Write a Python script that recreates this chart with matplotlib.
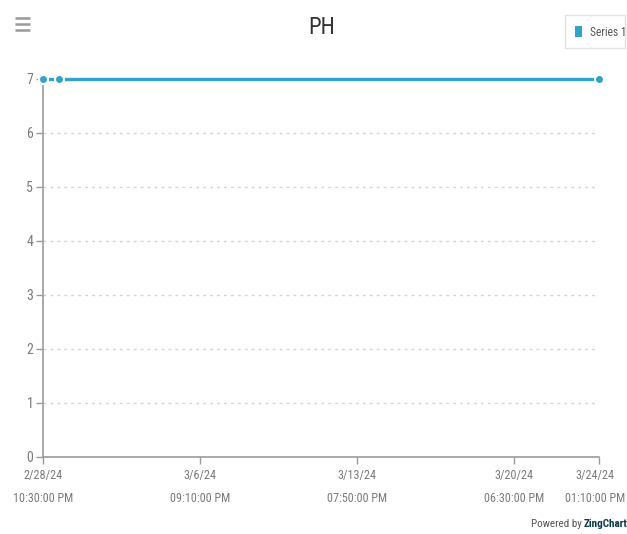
import matplotlib
matplotlib.use("Agg")
import matplotlib.pyplot as plt
import matplotlib.transforms as mtransforms
from matplotlib.patches import Rectangle
from datetime import datetime

plt.rcParams['font.family'] = ['Roboto Condensed', 'Archivo Narrow', 'DejaVu Sans']

# Series data
timestamps = [
    datetime(2024, 2, 28, 22, 30),
    datetime(2024, 2, 29, 15, 30),
    datetime(2024, 3, 24, 13, 10),
]
ph_values = [7, 7, 7]

# X tick positions and labels
tick_times = [
    datetime(2024, 2, 28, 22, 30),
    datetime(2024, 3, 6, 21, 10),
    datetime(2024, 3, 13, 19, 50),
    datetime(2024, 3, 20, 18, 30),
    datetime(2024, 3, 24, 13, 10),
]
tick_labels = [
    "2/28/24\n10:30:00 PM",
    "3/6/24\n09:10:00 PM",
    "3/13/24\n07:50:00 PM",
    "3/20/24\n06:30:00 PM",
    "3/24/24\n01:10:00 PM",
]
y_ticks = [0, 1, 2, 3, 4, 5, 6, 7]

line_color = "#2fa3c9"
axis_color = "#9a9a9a"
text_color = "#7a7a7a"
fs = 8.7

fig = plt.figure(figsize=(6.27, 5.34), dpi=100)
ax = fig.add_axes([43 / 627, 1 - 457 / 534, (599 - 43) / 627, (457 - 79) / 534])

ax.plot(timestamps, ph_values, color=line_color, linewidth=2.4, marker="o",
        markersize=6.5, markerfacecolor=line_color, markeredgecolor="white",
        markeredgewidth=1.5, clip_on=False, zorder=3)

ax.set_xlim(tick_times[0], tick_times[-1])
ax.set_ylim(0, 7)
ax.set_xticks(tick_times)
ax.set_xticklabels(tick_labels, linespacing=1.9)
ax.set_yticks(y_ticks)

for spine in ("top", "right"):
    ax.spines[spine].set_visible(False)
for spine in ("left", "bottom"):
    ax.spines[spine].set_color(axis_color)
    ax.spines[spine].set_linewidth(1.2)

ax.tick_params(axis="x", colors=axis_color, labelcolor=text_color,
               labelsize=fs, length=5, width=1, pad=4)
ax.tick_params(axis="y", colors=axis_color, labelcolor=text_color,
               labelsize=10, length=5, width=1, pad=2)

# keep the last date label inside the canvas
last = ax.get_xticklabels()[-1]
last.set_transform(last.get_transform() +
                   mtransforms.ScaledTranslation(-4 / 100, 0, fig.dpi_scale_trans))

ax.yaxis.grid(True, color="#d4d4d4", linestyle=(0, (2, 3)), linewidth=1)
ax.set_axisbelow(True)

# Title
fig.text(322 / 627, 1 - 28 / 534, "PH", ha="center", va="center",
         fontsize=16.5, color="#333333")

# Menu icon
for yy in (18, 24, 30):
    fig.add_artist(plt.Line2D([15 / 627, 30 / 627], [1 - yy / 534, 1 - yy / 534],
                              color="#999999", linewidth=1.8, solid_capstyle="butt"))

# Legend box
fig.add_artist(Rectangle((565 / 627, 1 - 48 / 534), 60 / 627, 33 / 534,
                         transform=fig.transFigure, facecolor="white",
                         edgecolor="#e2e2e2", linewidth=1))
fig.add_artist(Rectangle((575 / 627, 1 - 37 / 534), 7 / 627, 11 / 534,
                         transform=fig.transFigure, facecolor=line_color,
                         edgecolor="none"))
fig.text(590 / 627, 1 - 32 / 534, "Series 1", ha="left", va="center",
         fontsize=8.3, color="#555555")

# Footer credit
fig.text(584 / 627, 1 - 524 / 534, "Powered by ", ha="right", va="center",
         fontsize=8, color="#555555")
fig.text(584 / 627, 1 - 524 / 534, "ZingChart", ha="left", va="center",
         fontsize=8, color="#0b3a4a", fontweight="bold")

fig.savefig("out.png", dpi=100)
